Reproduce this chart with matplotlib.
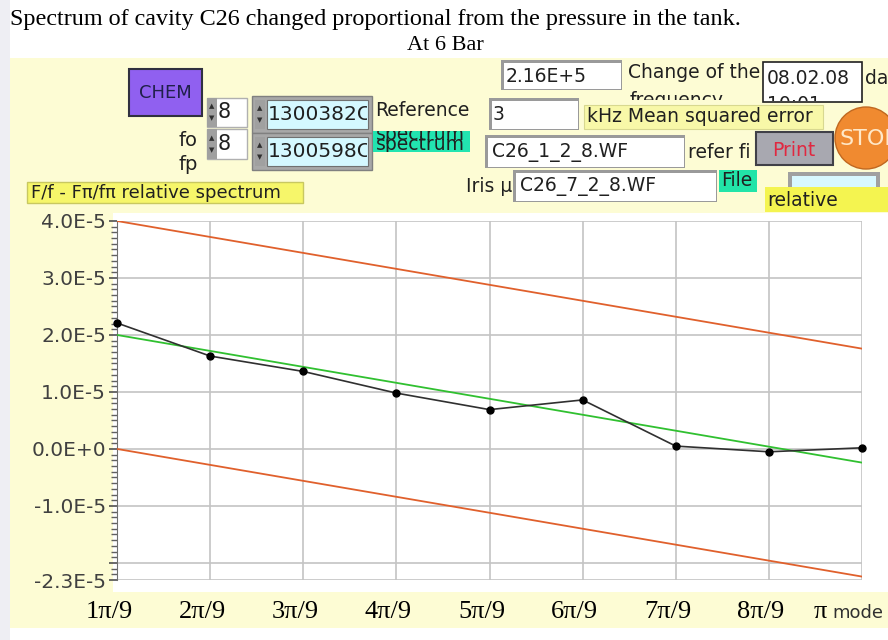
import matplotlib
matplotlib.use("Agg")
import matplotlib.pyplot as plt
from matplotlib.patches import Rectangle, Ellipse
from matplotlib.ticker import MultipleLocator, FixedLocator, FixedFormatter
from matplotlib.transforms import ScaledTranslation, Bbox

# chart data
modes = [1, 2, 3, 4, 5, 6, 7, 8, 9]
mode_labels = ["1π/9", "2π/9", "3π/9", "4π/9", "5π/9", "6π/9", "7π/9", "8π/9", "π"]
spectrum = [2.21e-5, 1.63e-5, 1.36e-5, 0.98e-5, 0.69e-5, 0.86e-5, 0.05e-5, -0.05e-5, 0.02e-5]
line_x = [1, 9]
fit_line = [2.0e-5, -0.24e-5]
upper_limit = [4.0e-5, 1.76e-5]
lower_limit = [0.0, -2.24e-5]
y_ticks = [4.0e-5, 3.0e-5, 2.0e-5, 1.0e-5, 0.0, -1.0e-5, -2.0e-5, -2.3e-5]
y_tick_labels = ["4.0E-5", "3.0E-5", "2.0E-5", "1.0E-5", "0.0E+0", "-1.0E-5", "", "-2.3E-5"]

W, H = 888, 640
PANEL = "#fdfcd4"
SANS = "DejaVu Sans"
SERIF = "Liberation Serif"

fig = plt.figure(figsize=(W / 100, H / 100), dpi=100)
fig.patch.set_facecolor("white")


def fx(x):
    return x / W


def fy(y):
    return 1 - y / H


def box(x0, y0, x1, y1, fc, ec="none", lw=1.0, z=1):
    r = Rectangle((fx(x0), fy(y1)), fx(x1) - fx(x0), fy(y0) - fy(y1),
                  transform=fig.transFigure, facecolor=fc, edgecolor=ec,
                  linewidth=lw, zorder=z)
    fig.add_artist(r)
    return r


def label(x, y, s, size=12, color="#202020", ha="left", family=SANS, z=5, clip=None, **kw):
    t = fig.text(fx(x), fy(y), s, fontsize=size, color=color, ha=ha, va="center",
                 family=family, zorder=z, **kw)
    if clip is not None:
        x0, y0, x1, y1 = clip
        t.set_clip_box(Bbox([[x0, H - y1], [x1, H - y0]]))
        t.set_clip_on(True)
    return t


def sunken(x0, y0, x1, y1, fc="white", z=2):
    box(x0, y0, x1, y1, "#9a9a9a", z=z)
    box(x0 + 3, y0 + 3, x1 - 1, y1 - 1, fc, z=z)


def spinner(x0, y0, y1, z=3):
    box(x0, y0, x0 + 10, y1, "#a0a0a0", z=z)
    mid = (y0 + y1) / 2
    label(x0 + 5, mid - 6, "▲", size=5, color="#303030", ha="center", z=z + 1)
    label(x0 + 5, mid + 6, "▼", size=5, color="#303030", ha="center", z=z + 1)


# background panels
box(0, 0, 10, H, "#eeeef3", z=0)
box(10, 58, W, 628, PANEL, z=0)
box(113, 213, W, 592, "white", z=0)

# title
label(10, 20, "Spectrum of cavity C26 changed proportional from the pressure in the tank.",
      size=17.4, color="black", family=SERIF)
label(445, 46, "At 6 Bar", size=16, color="black", ha="center", family=SERIF)

# front panel controls
box(129, 69, 202, 116, "#9060f0", ec="#303040", lw=1.5, z=2)
label(165, 93, "CHEM", size=13, color="#20204a", ha="center")

for y0, y1, val in [(98, 127, "8"), (129, 159, "8")]:
    box(207, y0, 247, y1, "white", ec="#b0b0b0", z=2)
    spinner(207, y0, y1)
    label(218, (y0 + y1) / 2, val, size=15)

for y0, y1, val in [(96, 133, "1300382C"), (133, 170, "1300598C")]:
    box(252, y0, 372, y1, "#a8a8a8", ec="#808080", z=2)
    box(267, y0 + 4, 368, y1 - 4, "#d4f8ff", ec="#707070", lw=0.8, z=3)
    spinner(255, y0 + 4, y1 - 4, z=3)
    label(268, (y0 + y1) / 2, val, size=14.5, z=5, clip=(267, y0, 367, y1))

label(188, 140, "fo", size=14, ha="center")
label(188, 164, "fp", size=14, ha="center")
label(375, 111, "Reference", size=13.5)
box(373, 131, 470, 152, "#22e4b0", z=2)
label(376, 135, "spectrum", size=13.5, clip=(373, 131, 470, 152))
label(376, 144, "spectrum", size=13.5, clip=(373, 131, 470, 152))

box(27, 182, 303, 203, "#f6f66a", ec="#c8c860", lw=1, z=2)
label(31, 193, "F/f - Fπ/fπ relative spectrum", size=13)

sunken(501, 60, 622, 90)
label(506, 76, "2.16E+5", size=13.5)
label(628, 73, "Change of the", size=13.5)
label(630, 100, "frequency", size=13.5, clip=(600, 60, 770, 100))
box(763, 62, 862, 102, "white", ec="#202020", lw=1.2, z=2)
label(767, 78, "08.02.08", size=13.5, z=5)
label(767, 104, "10:01", size=13.5, z=5, clip=(763, 62, 862, 101))
label(865, 78, "da", size=13.5)

sunken(489, 98, 579, 130)
label(493, 114, "3", size=13.5)
box(584, 105, 823, 129, "#f8f8a8", ec="#d8d890", lw=0.8, z=2)
label(587, 116, "kHz Mean squared error", size=13.5)

sunken(485, 135, 685, 168)
label(492, 153, "C26_1_2_8.WF", size=13.5)
label(688, 152, "refer fi", size=13.5)
box(756, 132, 833, 165, "#a8a8b0", ec="#404048", lw=1.5, z=2)
label(794, 150, "Print", size=13.5, color="#e02840", ha="center")
fig.add_artist(Ellipse((fx(866), fy(138)), 62 / W, 62 / H, transform=fig.transFigure,
                       facecolor="#f08a30", edgecolor="#c06820", lw=1, zorder=2))
label(839, 139, "STOP", size=16, color="#ffe8c8")

label(512, 187, "Iris μ", size=13.5, ha="right")
sunken(513, 170, 717, 202)
label(520, 187, "C26_7_2_8.WF", size=13.5)
box(719, 170, 757, 192, "#22e4a8", z=2)
label(721, 181, "File", size=13.5)
box(788, 172, 880, 212, "#a0a0a0", z=2)
box(792, 176, 876, 212, "#d8f8ff", z=2)
box(765, 187, W, 212, "#f4f450", z=3)
label(767, 200, "relative", size=13.5)

# graph
ax = fig.add_axes([fx(117), fy(580), fx(862) - fx(117), fy(221) - fy(580)])
ax.set_facecolor("white")
ax.plot(line_x, upper_limit, color="#e0602c", lw=1.3, zorder=3)
ax.plot(line_x, lower_limit, color="#e0602c", lw=1.3, zorder=3)
ax.plot(line_x, fit_line, color="#30c030", lw=1.3, zorder=3)
ax.plot(modes, spectrum, color="#303030", lw=1.2, marker="o", markersize=5,
        markerfacecolor="black", markeredgecolor="black", zorder=4, clip_on=False)

ax.set_xlim(1, 9)
ax.set_ylim(-2.3e-5, 4.0e-5)
ax.xaxis.set_major_locator(FixedLocator(modes))
ax.xaxis.set_major_formatter(FixedFormatter(mode_labels))
ax.yaxis.set_major_locator(FixedLocator(y_ticks))
ax.yaxis.set_major_formatter(FixedFormatter(y_tick_labels))
ax.yaxis.set_minor_locator(MultipleLocator(1e-6))
ax.grid(True, color="#c4c4c4", lw=1.2, zorder=0)
for side in ["top", "right", "bottom"]:
    ax.spines[side].set_visible(False)
ax.spines["left"].set_color("#707070")
ax.tick_params(axis="x", length=0, pad=15, labelsize=19, labelcolor="black")
ax.tick_params(axis="y", which="major", length=6, width=1.2, color="#505050",
               labelsize=14.5, labelcolor="#404040", pad=2)
ax.tick_params(axis="y", which="minor", length=4, width=1.0, color="#606060")
for t in ax.get_yticklabels():
    t.set_family(SANS)
for i, t in enumerate(ax.get_xticklabels()):
    t.set_family(SERIF)
    shift = -42 if i == len(modes) - 1 else -8
    t.set_transform(t.get_transform() + ScaledTranslation(shift / 100, 0, fig.dpi_scale_trans))
ax.text(9, 0, "mode", transform=ax.get_xaxis_transform() + ScaledTranslation(-0.3, -0.33, fig.dpi_scale_trans),
        fontsize=13, color="#303030", family=SANS, ha="left", va="center")

fig.savefig("out.png", dpi=100)
